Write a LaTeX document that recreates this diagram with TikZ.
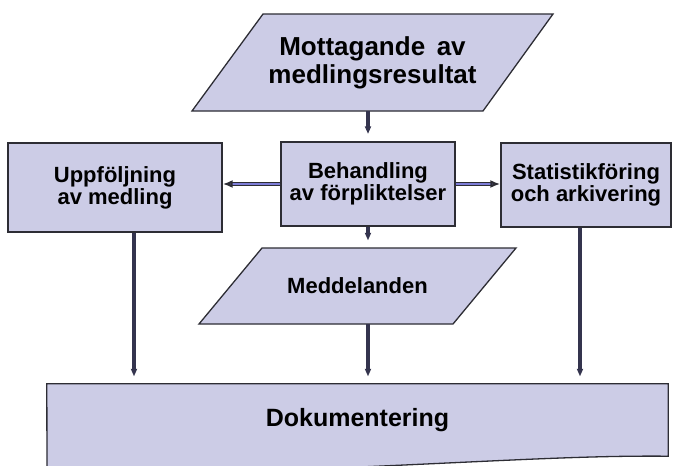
\documentclass[tikz,border=0pt]{standalone}
\usepackage{fontspec}
\setmainfont{Liberation Sans}
\usetikzlibrary{arrows.meta}

\definecolor{boxfill}{RGB}{204,204,230}
\definecolor{boxline}{RGB}{45,45,52}
\definecolor{arrowline}{RGB}{52,52,78}
\definecolor{arrowblue}{RGB}{125,125,215}

\tikzset{
  outline/.style={draw=boxline, fill=boxfill, line width=1.3pt},
  box/.style={rectangle, outline, inner sep=0pt,
    align=center, font=\bfseries\fontsize{22}{22}\selectfont},
  plain/.style={rectangle, inner sep=0pt, align=center},
  flowdown/.style={-{Latex[length=15pt, width=6pt, color=arrowline, fill=arrowblue]},
    draw=arrowline, line width=3.4pt},
  flowside/.style={-{Latex[length=10pt, width=8pt, color=boxline, fill=arrowblue]},
    draw=arrowblue, line width=2pt,
    preaction={draw=boxline, line width=4.6pt, shorten >=9pt, -}}
}

\begin{document}
\begin{tikzpicture}[x=1pt, y=-1pt]
  \useasboundingbox (0,0) rectangle (673,466);

  % slanted shapes are drawn first, their text nodes sit on top
  \draw[outline] (263,14) -- (553,14) -- (483,111) -- (192,111) -- cycle;
  \node[plain, minimum height=97pt, font=\bfseries\fontsize{26}{28}\selectfont] (mott) at (372.5,62.5)
        {Mottagande\, av\\medlingsresultat};

  \node[box, minimum width=214pt, minimum height=89pt] (uppf) at (115,187.5) {Uppföljning\\av medling};
  \node[box, minimum width=174pt, minimum height=84pt] (beh) at (368,184) {Behandling\\av förpliktelser};
  \node[box, minimum width=170pt, minimum height=84pt] (stat) at (586,185) {Statistikföring\\och arkivering};

  \draw[outline] (262,248) -- (516,248) -- (453,324) -- (199,324) -- cycle;
  \node[plain, minimum height=76pt, font=\bfseries\fontsize{22}{22}\selectfont] (medd) at (357.5,286) {Meddelanden};

  \node[plain, minimum width=621pt, minimum height=72pt] (dok) at (357.5,420) {};
  \draw[outline]
    (dok.north west) -- (dok.north east) -- (dok.south east)
    .. controls (540,455) and (420,468) .. (47,478) -- cycle;
  \node[plain, font=\bfseries\fontsize{25}{25}\selectfont] at (dok.center) {Dokumentering};

  \draw[flowdown] (beh.north |- mott.south) -- (beh.north);
  \draw[flowdown] (beh.south) -- (beh.south |- medd.north);
  \draw[flowdown] (beh.south |- medd.south) -- (beh.south |- dok.north);
  \draw[flowdown] ([xshift=19pt]uppf.south) -- ([xshift=19pt]uppf.south |- dok.north);
  \draw[flowdown] ([xshift=-6pt]stat.south) -- ([xshift=-6pt]stat.south |- dok.north);

  \draw[flowside] (beh.west) -- (beh.west -| uppf.east);
  \draw[flowside] (beh.east) -- (beh.east -| stat.west);
\end{tikzpicture}
\end{document}
